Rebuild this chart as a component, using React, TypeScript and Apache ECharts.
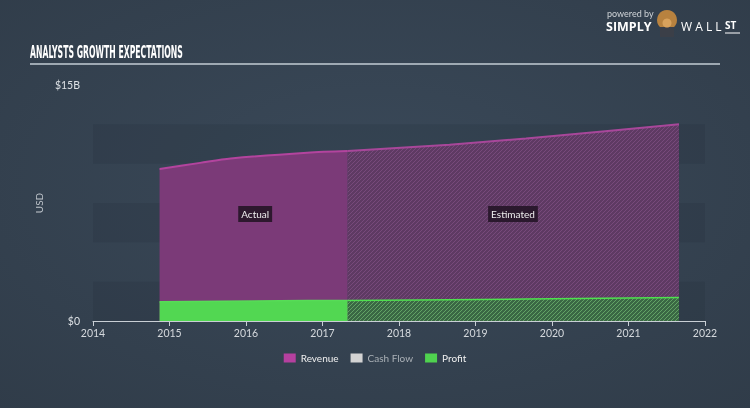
import React, { useEffect, useRef } from "react";
import * as echarts from "echarts";

const years = [2014, 2015, 2016, 2017, 2018, 2019, 2020, 2021, 2022];
const revenueActual: [number, number][] = [
  [2014.87, 9.66],
  [2015.4, 10.05],
  [2015.8, 10.33],
  [2016.8, 10.7],
  [2017.33, 10.8],
];
const revenueEstimated: [number, number][] = [
  [2017.33, 10.8],
  [2018.66, 11.2],
  [2019.66, 11.6],
  [2020.66, 12.05],
  [2021.66, 12.5],
];
const profitActual: [number, number][] = [
  [2014.87, 1.22],
  [2015.69, 1.25],
  [2016.8, 1.3],
  [2017.33, 1.3],
];
const profitEstimated: [number, number][] = [
  [2017.33, 1.3],
  [2018.66, 1.35],
  [2019.66, 1.4],
  [2020.66, 1.45],
  [2021.66, 1.5],
];
const legendNames = ["Revenue", "Cash Flow", "Profit"];
const yTicks = { min: 0, max: 15 };
const FONT = "Lato, 'Open Sans', sans-serif";
const TITLE = "ANALYSTS GROWTH EXPECTATIONS";

function hatch(base: string, stroke: string): HTMLCanvasElement {
  const c = document.createElement("canvas");
  const s = 4;
  c.width = s;
  c.height = s;
  const ctx = c.getContext("2d")!;
  ctx.fillStyle = base;
  ctx.fillRect(0, 0, s, s);
  ctx.strokeStyle = stroke;
  ctx.lineWidth = 1;
  ctx.beginPath();
  ctx.moveTo(0, s);
  ctx.lineTo(s, 0);
  ctx.moveTo(-1, 1);
  ctx.lineTo(1, -1);
  ctx.moveTo(s - 1, s + 1);
  ctx.lineTo(s + 1, s - 1);
  ctx.stroke();
  return c;
}

function measure(text: string, font: string): number {
  const c = document.createElement("canvas");
  const ctx = c.getContext("2d")!;
  ctx.font = font;
  return ctx.measureText(text).width;
}

export default function App() {
  const ref = useRef<HTMLDivElement>(null);
  useEffect(() => {
    if (!ref.current) return;
    const chart = echarts.init(ref.current, null, { renderer: "svg" });
    const titleFont = "bold 18px 'Liberation Sans Narrow', 'DejaVu Sans Condensed', sans-serif";
    const tw = measure(TITLE, titleFont) || 300;
    const titleScale = 153 / tw;

    const purpleHatch = hatch("#5e3a63", "#774a7b");
    const greenHatch = hatch("#3a6844", "#62a265");

    chart.setOption({
      animation: false,
      backgroundColor: {
        type: "radial",
        x: 0.5,
        y: 0.45,
        r: 0.75,
        colorStops: [
          { offset: 0, color: "#3a4959" },
          { offset: 1, color: "#303c49" },
        ],
      },
      textStyle: { fontFamily: FONT },
      grid: { left: 93, right: 45, top: 85, bottom: 87 },
      legend: {
        top: 348,
        left: "center",
        icon: "rect",
        itemWidth: 12,
        itemHeight: 9,
        itemGap: 12,
        textStyle: { color: "#f0f0f0", fontSize: 10, fontFamily: FONT },
        data: [
          { name: legendNames[0] },
          { name: legendNames[1], textStyle: { color: "#aab0b6" } },
          { name: legendNames[2] },
        ],
        selectedMode: false,
      },
      xAxis: {
        type: "value",
        min: years[0],
        max: years[years.length - 1],
        interval: 1,
        axisLine: { show: true, lineStyle: { color: "#c9cfd5", width: 1 } },
        axisTick: { show: true, length: 5, lineStyle: { color: "#c9cfd5" } },
        axisLabel: {
          color: "#d5d9dd",
          fontSize: 10.5,
          margin: 6,
          formatter: (v: number) => String(Math.round(v)),
        },
        splitLine: { show: false },
      },
      yAxis: [
        {
          type: "value",
          min: yTicks.min,
          max: yTicks.max,
          interval: 15,
          name: "USD",
          nameLocation: "middle",
          nameGap: 17,
          nameTextStyle: { color: "#c0c6cc", fontSize: 10 },
          axisLine: { show: false },
          axisTick: { show: false },
          axisLabel: {
            color: "#dde1e5",
            fontSize: 10.5,
            margin: 13,
            formatter: (v: number) => (v === 0 ? "$0" : "$" + v + "B"),
          },
          splitLine: { show: false },
        },
        {
          type: "value",
          min: yTicks.min,
          max: yTicks.max,
          interval: 2.5,
          axisLine: { show: false },
          axisTick: { show: false },
          axisLabel: { show: false },
          splitLine: { show: false },
          splitArea: {
            show: true,
            areaStyle: { color: ["rgba(20,30,40,0.11)", "rgba(0,0,0,0)"] },
          },
        },
      ],
      series: [
        {
          name: "Revenue",
          type: "line",
          data: revenueActual,
          symbol: "none",
          smooth: 0.3,
          color: "#b5409f",
          lineStyle: { color: "#b3449e", width: 2 },
          areaStyle: { color: "#7b3a78", opacity: 1 },
          z: 2,
          markPoint: {
            symbol: "rect",
            symbolSize: 1,
            itemStyle: { color: "rgba(0,0,0,0)" },
            label: {
              show: true,
              position: "inside",
              color: "#eeeeee",
              fontSize: 10,
              fontFamily: FONT,
              backgroundColor: "rgba(38,22,40,0.92)",
              padding: [3, 3, 3, 3],
              formatter: (p: any) => p.name,
            },
            data: [
              { name: "Actual", coord: [2016.12, 6.8] },
              { name: "Estimated", coord: [2019.49, 6.8] },
            ],
          },
        },
        {
          name: "Revenue",
          type: "line",
          data: revenueEstimated,
          symbol: "none",
          color: "#b5409f",
          lineStyle: { color: "#a8479a", width: 2 },
          areaStyle: {
            color: { image: purpleHatch, repeat: "repeat" },
            opacity: 1,
          },
          z: 2,
        },
        {
          name: "Cash Flow",
          type: "line",
          data: [],
          color: "#d3d3d3",
          symbol: "none",
        },
        {
          name: "Profit",
          type: "line",
          data: profitActual,
          symbol: "none",
          color: "#4fd24f",
          lineStyle: { color: "#57dc57", width: 1.5 },
          areaStyle: { color: "#52d752", opacity: 1 },
          z: 3,
        },
        {
          name: "Profit",
          type: "line",
          data: profitEstimated,
          symbol: "none",
          color: "#4fd24f",
          lineStyle: { color: "#4fe04f", width: 1.5 },
          areaStyle: {
            color: { image: greenHatch, repeat: "repeat" },
            opacity: 1,
          },
          z: 3,
        },
      ],
      graphic: [
        {
          type: "text",
          left: 30,
          top: 43,
          scaleX: titleScale,
          style: {
            text: TITLE,
            font: titleFont,
            fill: "#ffffff",
          },
        },
        {
          type: "line",
          shape: { x1: 30, y1: 64, x2: 720, y2: 64 },
          style: { stroke: "#c3ccd4", lineWidth: 1.5 },
        },
        {
          type: "text",
          x: 607,
          y: 9,
          style: { text: "powered by", font: "9px " + FONT, fill: "#d0d4d8" },
        },
        {
          type: "text",
          x: 606,
          y: 20,
          style: { text: "SIMPLY", font: "bold 12.5px 'Open Sans', sans-serif", fill: "#ffffff" },
        },
        {
          type: "circle",
          shape: { cx: 667, cy: 20, r: 10 },
          style: { fill: "#b8823f" },
        },
        {
          type: "rect",
          shape: { x: 660, y: 27, width: 14, height: 10 },
          style: { fill: "#3b3f48" },
        },
        {
          type: "circle",
          shape: { cx: 667, cy: 23, r: 4.5 },
          style: { fill: "#d9a25c" },
        },
        {
          type: "text",
          x: 681,
          y: 20,
          style: { text: "W A L L", font: "12px 'Open Sans', sans-serif", fill: "#ffffff" },
        },
        {
          type: "text",
          x: 725,
          y: 20,
          style: { text: "ST", font: "bold 10px 'Open Sans', sans-serif", fill: "#ffffff" },
        },
        {
          type: "line",
          shape: { x1: 725, y1: 33, x2: 740, y2: 33 },
          style: { stroke: "#ffffff", lineWidth: 1 },
        },
      ],
    });
    return () => chart.dispose();
  }, []);
  return (
    <div
      ref={ref}
      style={{ position: "fixed", left: 0, top: 0, width: 750, height: 408 }}
    />
  );
}
